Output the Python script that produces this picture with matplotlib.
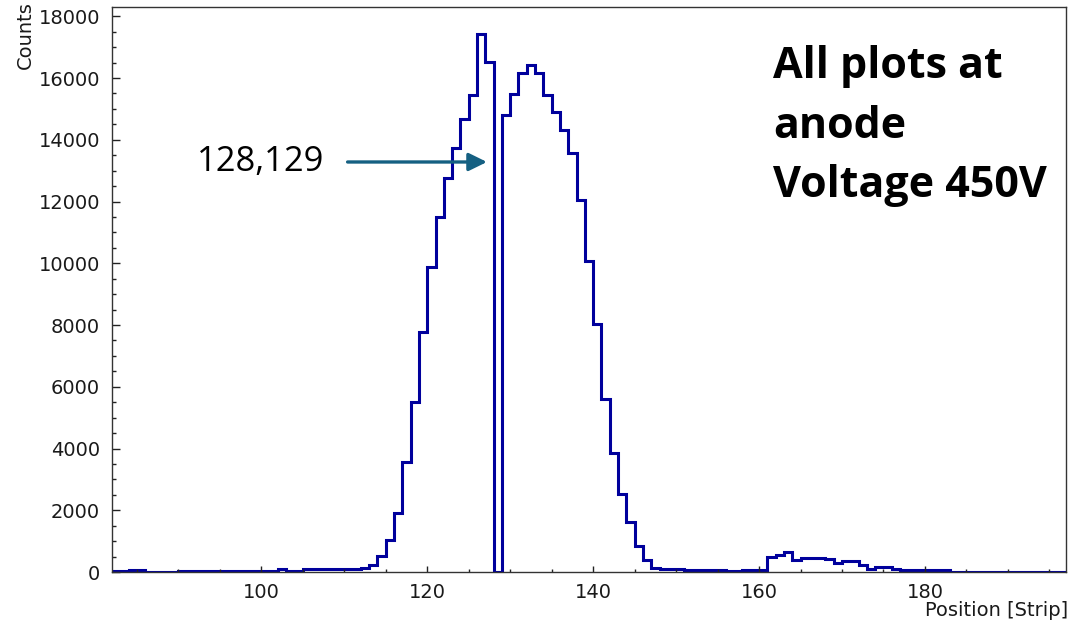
import numpy as np
import matplotlib
matplotlib.use("Agg")
import matplotlib.pyplot as plt
from matplotlib.ticker import MultipleLocator

# ---- data ----
bin_edges = list(range(82, 198))  # strip bin edges, 1 strip per bin
counts = [
    30, 30, 80, 80, 10, 10, 10, 10,                      # 82-89
    40, 40, 40, 40, 40, 40, 40, 40, 40, 40, 40, 40,      # 90-101
    100, 30, 30,                                         # 102-104
    90, 90, 90, 90, 90, 90, 90,                          # 105-111
    130, 217, 520, 1030, 1925, 3565, 5510, 7780, 9885,   # 112-120
    11490, 12750, 13725, 14665, 15450, 17430, 16530, 0,  # 121-128
    14800, 15485, 16155, 16425, 16155, 15450, 14910,     # 129-135
    14320, 13560, 12050, 10080, 8030, 5590, 3870, 2540,  # 136-143
    1620, 833, 380, 143, 100, 100, 100,                  # 144-150
    55, 55, 55, 55, 55, 32, 32, 78, 78, 78,              # 151-160
    490, 540, 650, 400, 465, 465, 465, 410, 290, 345,    # 161-170
    345, 217, 110, 160, 160, 110,                        # 171-176
    55, 55, 55, 55, 55, 55,                              # 177-182
    15, 15, 15, 15, 15, 15, 15, 15, 15, 15, 15, 15, 15, 15,  # 183-196
]
x_ticks = [100, 120, 140, 160, 180]
x_label = "Position [Strip]"
y_label = "Counts"
arrow_label = "128,129"
note_lines = ["All plots at", "anode", "Voltage 450V"]

# ---- figure ----
W, H = 1076, 627
fig = plt.figure(figsize=(W / 100, H / 100), dpi=100)
ax = fig.add_axes([112 / W, 1 - 572 / H, (1066 - 112) / W, (572 - 7) / H])

ax.stairs(counts, bin_edges, color="#00009c", linewidth=2.2)

ax.set_xlim(82, 197)
ax.set_ylim(0, 18300)
ax.set_xticks(x_ticks)
ax.xaxis.set_minor_locator(MultipleLocator(5))
ax.yaxis.set_major_locator(MultipleLocator(2000))
ax.yaxis.set_minor_locator(MultipleLocator(500))

ax.tick_params(axis="both", which="both", direction="in", colors="#222222",
               labelcolor="#1a1a1a", width=1.0)
ax.tick_params(axis="y", which="major", length=5.8, pad=8.5, labelsize=14)
ax.tick_params(axis="y", which="minor", length=2.9)
ax.tick_params(axis="x", which="major", length=4.3, pad=8, labelsize=14)
ax.tick_params(axis="x", which="minor", length=2.2)
for lab in ax.get_xticklabels() + ax.get_yticklabels():
    lab.set_family("DejaVu Sans")

for s in ax.spines.values():
    s.set_color("#333333")
    s.set_linewidth(1.0)

# axis titles, ROOT style
fig.text(1068 / W, 1 - 611 / H, x_label, ha="right", va="center",
         fontsize=14, family="DejaVu Sans", color="#1a1a1a")
fig.text(25 / W, 1 - 35 / H, y_label, ha="center", va="center", rotation=90,
         fontsize=14, family="DejaVu Sans", color="#1a1a1a")

# annotation arrow and label
arrow_y = 13280
ax.annotate("", xy=(127.2, arrow_y), xytext=(110.4, arrow_y),
            arrowprops=dict(arrowstyle="-|>,head_length=0.55,head_width=0.27",
                            mutation_scale=20, color="#156082", lw=2.4,
                            shrinkA=0, shrinkB=0))
ax.text(99.9, arrow_y, arrow_label, ha="center", va="center",
        fontsize=24.8, family="Open Sans", color="black")

# big note
baselines = [78, 138, 197]
for line, yb in zip(note_lines, baselines):
    fig.text(773 / W, 1 - yb / H, line, ha="left", va="baseline",
             fontsize=31, family="Open Sans", fontweight="bold", color="black")

fig.savefig("out.png", dpi=100)
